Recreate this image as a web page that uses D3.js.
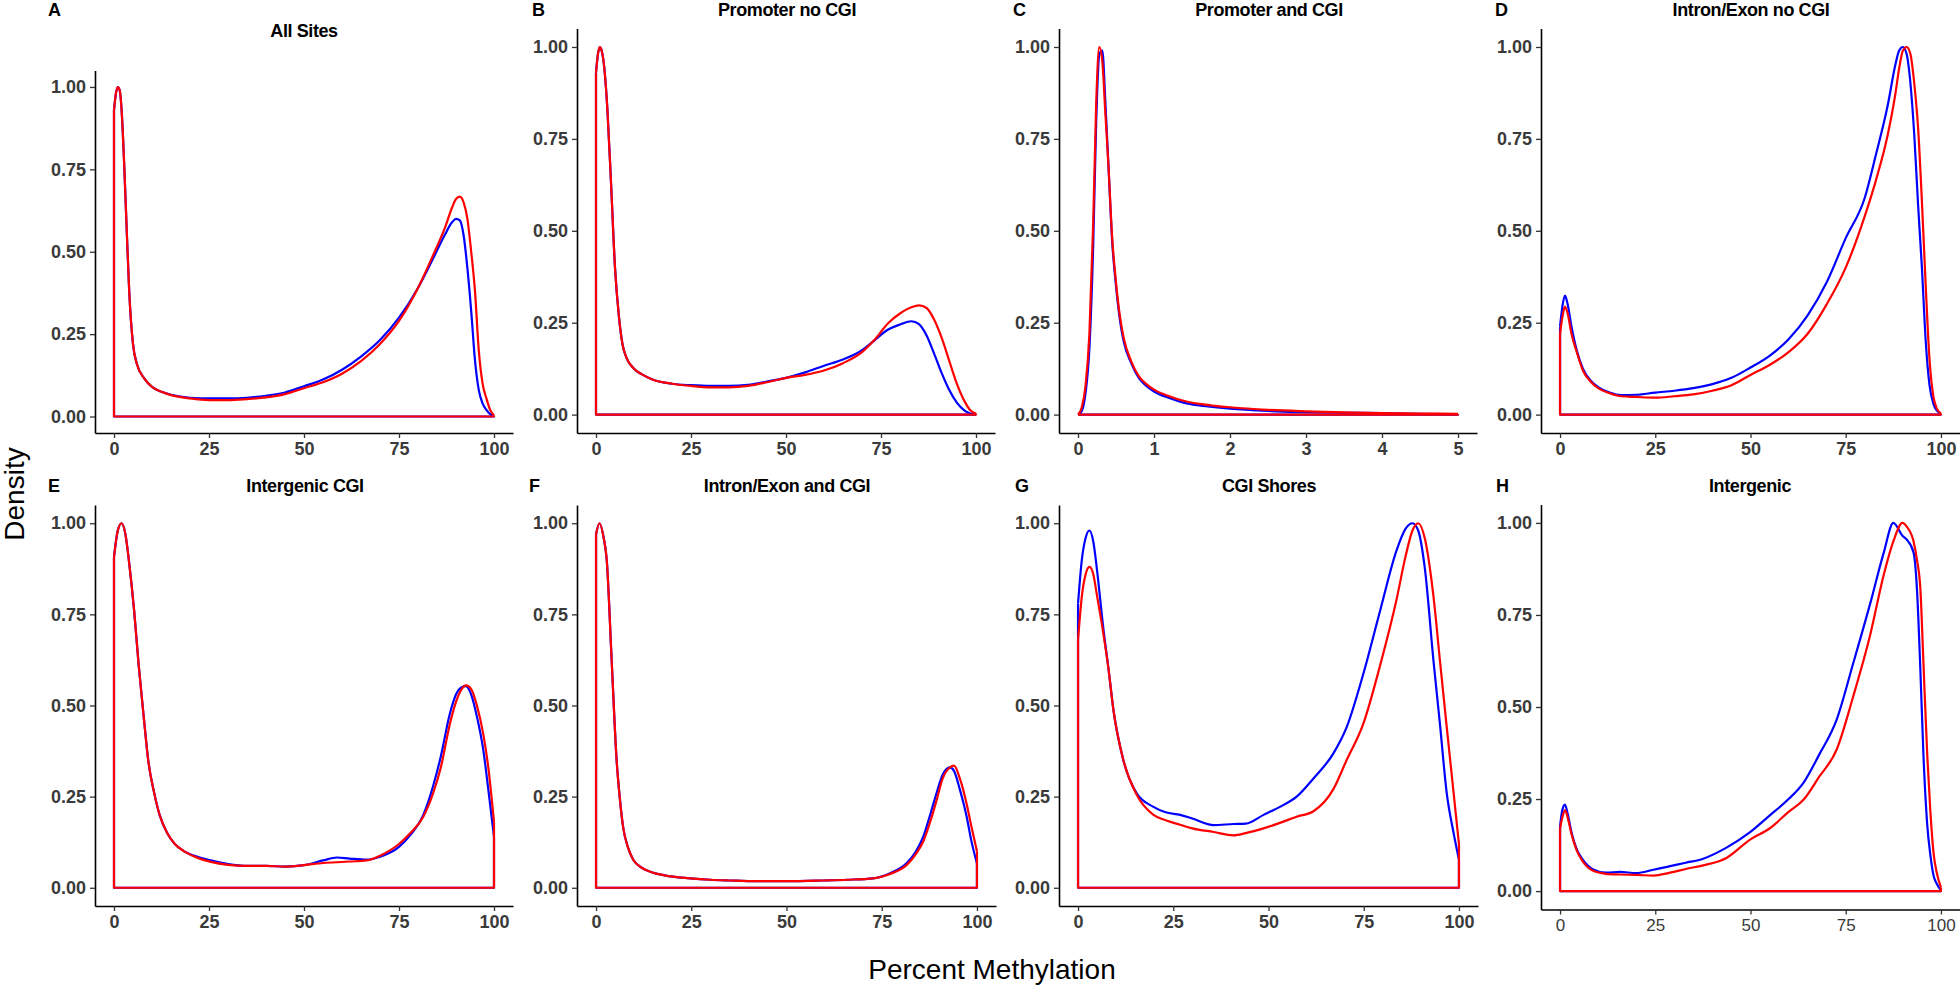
<!DOCTYPE html>
<html>
<head>
<meta charset="utf-8">
<script src="https://cdn.jsdelivr.net/npm/d3@7"></script>
<style>
  html, body { margin: 0; padding: 0; background: #fff; }
  svg { display: block; font-family: "Liberation Sans", Arial, Helvetica, sans-serif; }
</style>
</head>
<body>
<svg id="chart" width="1960" height="986"></svg>
<script>
// ---------------- DATA ----------------
const panelLetters = ["A", "B", "C", "D", "E", "F", "G", "H"];
const panelTitles = ["All Sites", "Promoter no CGI", "Promoter and CGI", "Intron/Exon no CGI",
                     "Intergenic CGI", "Intron/Exon and CGI", "CGI Shores", "Intergenic"];
const yTickValues = [0, 0.25, 0.5, 0.75, 1];
const xTicksPercent = [0, 25, 50, 75, 100];
const xTicksC = [0, 1, 2, 3, 4, 5];
const seriesNames = ["blue", "red"];

// A: All Sites
const xA = [0, 0.5, 1, 1.5, 2, 2.7, 3.3, 4, 5, 6, 8, 10, 12.5, 15, 20, 25, 30, 35, 40, 45, 50, 55, 60, 65, 70, 75, 80, 84, 87, 89, 90, 91, 92, 93, 94, 95, 96, 97, 98, 99, 100];
const blueA = [0.93, 0.98, 1.0, 0.99, 0.93, 0.76, 0.58, 0.38, 0.22, 0.16, 0.115, 0.09, 0.075, 0.066, 0.057, 0.055, 0.055, 0.057, 0.063, 0.073, 0.092, 0.112, 0.142, 0.182, 0.232, 0.3, 0.39, 0.48, 0.55, 0.59, 0.6, 0.595, 0.55, 0.45, 0.32, 0.17, 0.08, 0.04, 0.02, 0.007, 0.001];
const redA = [0.93, 0.98, 1.0, 0.99, 0.93, 0.76, 0.58, 0.38, 0.22, 0.16, 0.115, 0.09, 0.075, 0.065, 0.055, 0.05, 0.05, 0.053, 0.058, 0.068, 0.086, 0.104, 0.13, 0.168, 0.22, 0.29, 0.39, 0.49, 0.57, 0.635, 0.66, 0.667, 0.65, 0.6, 0.5, 0.38, 0.2, 0.1, 0.055, 0.02, 0.003];

// B: Promoter no CGI
const xB = [0, 0.5, 1, 1.5, 2, 3, 4, 5, 6, 7, 8, 10, 12, 15, 20, 25, 30, 35, 40, 45, 50, 55, 60, 65, 70, 73, 77, 80, 83, 85, 87, 89, 91, 93, 95, 97, 98.5, 100];
const blueB = [0.93, 0.98, 1.0, 0.99, 0.96, 0.83, 0.62, 0.40, 0.27, 0.19, 0.155, 0.125, 0.11, 0.095, 0.084, 0.08, 0.078, 0.078, 0.081, 0.09, 0.1, 0.115, 0.133, 0.15, 0.175, 0.2, 0.232, 0.245, 0.254, 0.246, 0.215, 0.165, 0.112, 0.066, 0.032, 0.011, 0.003, 0];
const redB = [0.93, 0.98, 1.0, 0.99, 0.96, 0.83, 0.62, 0.40, 0.27, 0.19, 0.155, 0.125, 0.11, 0.095, 0.084, 0.078, 0.074, 0.074, 0.078, 0.088, 0.1, 0.108, 0.12, 0.14, 0.17, 0.2, 0.25, 0.275, 0.292, 0.297, 0.29, 0.258, 0.208, 0.145, 0.083, 0.036, 0.012, 0.003];

// C: Promoter and CGI (x from 0 to 5)
const xC = [0, 0.05, 0.1, 0.15, 0.2, 0.24, 0.28, 0.32, 0.36, 0.4, 0.45, 0.5, 0.55, 0.6, 0.7, 0.8, 0.9, 1.0, 1.2, 1.4, 1.6, 1.8, 2.0, 2.5, 3.0, 3.5, 4.0, 4.5, 5.0];
const blueC = [0, 0.01, 0.06, 0.18, 0.46, 0.8, 0.98, 0.99, 0.85, 0.68, 0.47, 0.35, 0.26, 0.2, 0.14, 0.1, 0.078, 0.063, 0.045, 0.032, 0.025, 0.02, 0.016, 0.01, 0.007, 0.005, 0.004, 0.002, 0.001];
const redC = [0, 0.02, 0.08, 0.22, 0.52, 0.85, 1.0, 0.96, 0.82, 0.68, 0.48, 0.36, 0.27, 0.21, 0.145, 0.105, 0.083, 0.068, 0.05, 0.037, 0.029, 0.024, 0.02, 0.013, 0.009, 0.006, 0.004, 0.003, 0.002];

// D: Intron/Exon no CGI
const xD = [0, 0.7, 1.3, 2, 3, 4.4, 6, 8, 10, 13, 16, 20, 25, 30, 35, 40, 45, 50, 55, 60, 65, 70, 75, 80, 83, 86, 88, 89, 90, 91, 92, 93, 94, 95, 96, 97, 98, 99, 100];
const blueD = [0.24, 0.3, 0.324, 0.3, 0.24, 0.174, 0.125, 0.093, 0.075, 0.06, 0.053, 0.054, 0.06, 0.065, 0.072, 0.083, 0.1, 0.128, 0.16, 0.205, 0.27, 0.36, 0.48, 0.59, 0.71, 0.84, 0.95, 0.99, 1.0, 0.98, 0.9, 0.76, 0.57, 0.4, 0.2, 0.08, 0.03, 0.01, 0.002];
const redD = [0.22, 0.27, 0.294, 0.275, 0.22, 0.17, 0.12, 0.09, 0.072, 0.058, 0.05, 0.048, 0.046, 0.05, 0.055, 0.065, 0.08, 0.108, 0.135, 0.17, 0.22, 0.3, 0.4, 0.54, 0.64, 0.76, 0.87, 0.94, 0.99, 1.0, 0.98, 0.9, 0.78, 0.58, 0.35, 0.15, 0.05, 0.015, 0.003];

// E: Intergenic CGI
const xE = [0, 1, 2, 3, 4, 5.3, 6.5, 8, 9, 10.6, 12, 14, 16, 18.5, 22, 25.5, 30, 35, 40, 45, 50, 55, 58.7, 62, 66.5, 70, 75, 78, 81.4, 84, 86, 88.4, 90, 91.5, 92.6, 94, 95.5, 97.2, 98.5, 100];
const blueE = [0.907, 0.98, 1.0, 0.97, 0.89, 0.76, 0.61, 0.45, 0.35, 0.259, 0.2, 0.15, 0.12, 0.1, 0.085, 0.075, 0.065, 0.06, 0.06, 0.058, 0.062, 0.075, 0.083, 0.08, 0.077, 0.085, 0.112, 0.145, 0.2, 0.28, 0.36, 0.478, 0.53, 0.55, 0.553, 0.53, 0.47, 0.377, 0.27, 0.14];
const redE = [0.907, 0.98, 1.0, 0.97, 0.89, 0.76, 0.61, 0.45, 0.35, 0.259, 0.2, 0.15, 0.12, 0.1, 0.082, 0.071, 0.063, 0.06, 0.06, 0.058, 0.062, 0.068, 0.07, 0.072, 0.075, 0.088, 0.12, 0.15, 0.195, 0.26, 0.33, 0.45, 0.51, 0.545, 0.555, 0.545, 0.5, 0.42, 0.33, 0.18];

// F: Intron/Exon and CGI
const xF = [0, 0.9, 2, 2.8, 4.1, 5.4, 6.2, 7.1, 8.4, 9.8, 12, 14.2, 18, 24.7, 30, 35, 42.2, 50, 59.7, 66, 72.8, 77.2, 81.5, 84, 85.9, 88, 89.4, 91, 92.9, 94, 95.5, 97.3, 98.5, 100];
const blueF = [0.97, 1.0, 0.96, 0.9, 0.624, 0.35, 0.25, 0.167, 0.11, 0.076, 0.055, 0.044, 0.034, 0.026, 0.022, 0.02, 0.018, 0.018, 0.02, 0.022, 0.026, 0.04, 0.067, 0.1, 0.14, 0.21, 0.26, 0.31, 0.33, 0.32, 0.27, 0.195, 0.13, 0.067];
const redF = [0.97, 1.0, 0.96, 0.9, 0.624, 0.35, 0.25, 0.167, 0.11, 0.076, 0.055, 0.044, 0.034, 0.026, 0.022, 0.02, 0.018, 0.018, 0.02, 0.022, 0.026, 0.038, 0.062, 0.093, 0.127, 0.19, 0.24, 0.3, 0.33, 0.335, 0.3, 0.23, 0.17, 0.1];

// G: CGI Shores
const xG = [0, 1, 2, 3, 4, 5, 6.6, 8, 9.3, 11.9, 15.4, 19.8, 23, 26.8, 30, 35.6, 40.8, 44, 48.7, 53, 57.4, 61.8, 67, 70.5, 74.9, 79.3, 83.6, 86, 87.8, 89.3, 91, 93.3, 95, 96.8, 98.6, 100];
const blueG = [0.78, 0.9, 0.96, 0.98, 0.95, 0.87, 0.715, 0.6, 0.487, 0.35, 0.259, 0.222, 0.207, 0.2, 0.19, 0.172, 0.175, 0.176, 0.2, 0.222, 0.25, 0.3, 0.368, 0.44, 0.587, 0.76, 0.925, 0.985, 1.0, 0.98, 0.88, 0.624, 0.45, 0.259, 0.15, 0.077];
const redG = [0.68, 0.8, 0.86, 0.88, 0.86, 0.8, 0.7, 0.6, 0.487, 0.35, 0.255, 0.2, 0.185, 0.173, 0.163, 0.153, 0.144, 0.15, 0.163, 0.178, 0.195, 0.21, 0.27, 0.35, 0.45, 0.61, 0.79, 0.91, 0.98, 1.0, 0.96, 0.8, 0.624, 0.44, 0.26, 0.12];

// H: Intergenic
const xH = [0, 0.6, 1.3, 2, 3, 4.4, 6, 8.7, 12, 15.7, 20, 24.5, 28.9, 33, 37.6, 43.7, 49.9, 55, 60, 63.9, 68, 72.6, 77, 81.4, 85, 87.5, 89.9, 91, 92.8, 93.7, 94.6, 95.4, 96.4, 97.2, 98.1, 98.9, 100];
const blueH = [0.176, 0.22, 0.235, 0.21, 0.16, 0.113, 0.085, 0.059, 0.05, 0.052, 0.049, 0.058, 0.068, 0.077, 0.088, 0.118, 0.16, 0.205, 0.25, 0.294, 0.37, 0.465, 0.62, 0.78, 0.92, 1.0, 0.965, 0.955, 0.92, 0.82, 0.6, 0.37, 0.18, 0.1, 0.04, 0.02, 0.002];
const redH = [0.17, 0.2, 0.22, 0.2, 0.155, 0.11, 0.08, 0.055, 0.047, 0.045, 0.044, 0.042, 0.05, 0.06, 0.07, 0.09, 0.14, 0.17, 0.215, 0.248, 0.31, 0.384, 0.53, 0.695, 0.86, 0.95, 1.0, 0.99, 0.95, 0.9, 0.82, 0.62, 0.37, 0.22, 0.1, 0.05, 0.01];

// ---------------- LAYOUT ----------------
const xs = [xA, xB, xC, xD, xE, xF, xG, xH];
const blues = [blueA, blueB, blueC, blueD, blueE, blueF, blueG, blueH];
const reds = [redA, redB, redC, redD, redE, redF, redG, redH];
const xDomains = [[0,100],[0,100],[0,5],[0,100],[0,100],[0,100],[0,100],[0,100]];
const xTickSets = [xTicksPercent, xTicksPercent, xTicksC, xTicksPercent, xTicksPercent, xTicksPercent, xTicksPercent, xTicksPercent];

// panel boxes: left (y-axis line), right, top, bottom (x-axis line)
const boxes = [
  {l: 95,   r: 513,  t: 70.5, b: 433},
  {l: 577,  r: 995,  t: 28.6, b: 433},
  {l: 1059, r: 1477, t: 28.6, b: 433},
  {l: 1541, r: 1960, t: 28.6, b: 433},
  {l: 95,   r: 513,  t: 505,  b: 906},
  {l: 577,  r: 996,  t: 505,  b: 906},
  {l: 1059, r: 1478, t: 505,  b: 906},
  {l: 1541, r: 1960, t: 504.5, b: 909.5}
];
const titlePos = [[304, 36.5], [787, 16], [1269, 16], [1751, 16], [305, 491.5], [787, 491.5], [1269, 491.5], [1750, 491.5]];
const letterPos = [[48, 16], [532, 16], [1013, 16], [1495, 16], [48, 491.5], [529, 491.5], [1015, 491.5], [1496, 491.5]];
const colors = {blue: "#0000FF", red: "#FF0000"};

const svg = d3.select("#chart");

for (let i = 0; i < 8; i++) {
  const bx = boxes[i];
  const d0 = xDomains[i];
  const pad = (d0[1] - d0[0]) * 0.05;
  const x = d3.scaleLinear().domain([d0[0] - pad, d0[1] + pad]).range([bx.l, bx.r]);
  const y = d3.scaleLinear().domain([-0.05, 1.05]).range([bx.b, bx.t]);
  const g = svg.append("g");

  // density outlines: blue first, red on top
  const lineCurve = d3.line().x(d => x(d[0])).y(d => y(d[1])).curve(d3.curveMonotoneX);
  const lineStraight = d3.line().x(d => x(d[0])).y(d => y(d[1]));
  [blues[i], reds[i]].forEach((vals, k) => {
    const xv = xs[i];
    const pts = xv.map((xx, j) => [xx, vals[j]]);
    const n = xv.length - 1;
    const base = [[xv[n], vals[n]], [xv[n], 0], [xv[0], 0], [xv[0], vals[0]]];
    const col = colors[seriesNames[k]];
    g.append("path").attr("d", lineStraight(base))
      .attr("fill", "none").attr("stroke", col).attr("stroke-width", 2.2).attr("stroke-linejoin", "round");
    g.append("path").attr("d", lineCurve(pts))
      .attr("fill", "none").attr("stroke", col).attr("stroke-width", 2.2).attr("stroke-linejoin", "round");
  });

  // axes
  const yAxis = d3.axisLeft(y).tickValues(yTickValues).tickFormat(d3.format(".2f"))
    .tickSize(5).tickSizeOuter(0).tickPadding(4);
  const xAxis = d3.axisBottom(x).tickValues(xTickSets[i]).tickFormat(d3.format("d"))
    .tickSize(5).tickSizeOuter(0).tickPadding(4);
  const ya = g.append("g").attr("transform", `translate(${bx.l},0)`).call(yAxis);
  const xa = g.append("g").attr("transform", `translate(0,${bx.b})`).call(xAxis);
  [ya, xa].forEach(a => {
    a.select(".domain").attr("stroke", "#000").attr("stroke-width", 1.6);
    a.selectAll(".tick line").attr("stroke", "#333").attr("stroke-width", 1.3);
    a.selectAll(".tick text").attr("fill", "#3a3a3a").attr("font-size", 18).attr("font-weight", "bold")
      .attr("font-family", '"Liberation Sans", Arial, sans-serif');
  });
  if (i === 7) {
    xa.selectAll(".tick text").attr("font-weight", "normal").attr("font-size", 17);
  }

  // title & panel letter
  svg.append("text").attr("x", titlePos[i][0]).attr("y", titlePos[i][1])
    .attr("text-anchor", "middle").attr("font-size", 18).attr("font-weight", "bold")
    .attr("letter-spacing", "-0.4").attr("fill", "#000").text(panelTitles[i]);
  svg.append("text").attr("x", letterPos[i][0]).attr("y", letterPos[i][1])
    .attr("font-size", 18).attr("font-weight", "bold").attr("fill", "#000").text(panelLetters[i]);
}

// shared axis labels
svg.append("text").attr("transform", "translate(24,494) rotate(-90)")
  .attr("text-anchor", "middle").attr("font-size", 28).attr("fill", "#000").text("Density");
svg.append("text").attr("x", 992).attr("y", 979)
  .attr("text-anchor", "middle").attr("font-size", 28).attr("fill", "#000").text("Percent Methylation");
</script>
</body>
</html>
